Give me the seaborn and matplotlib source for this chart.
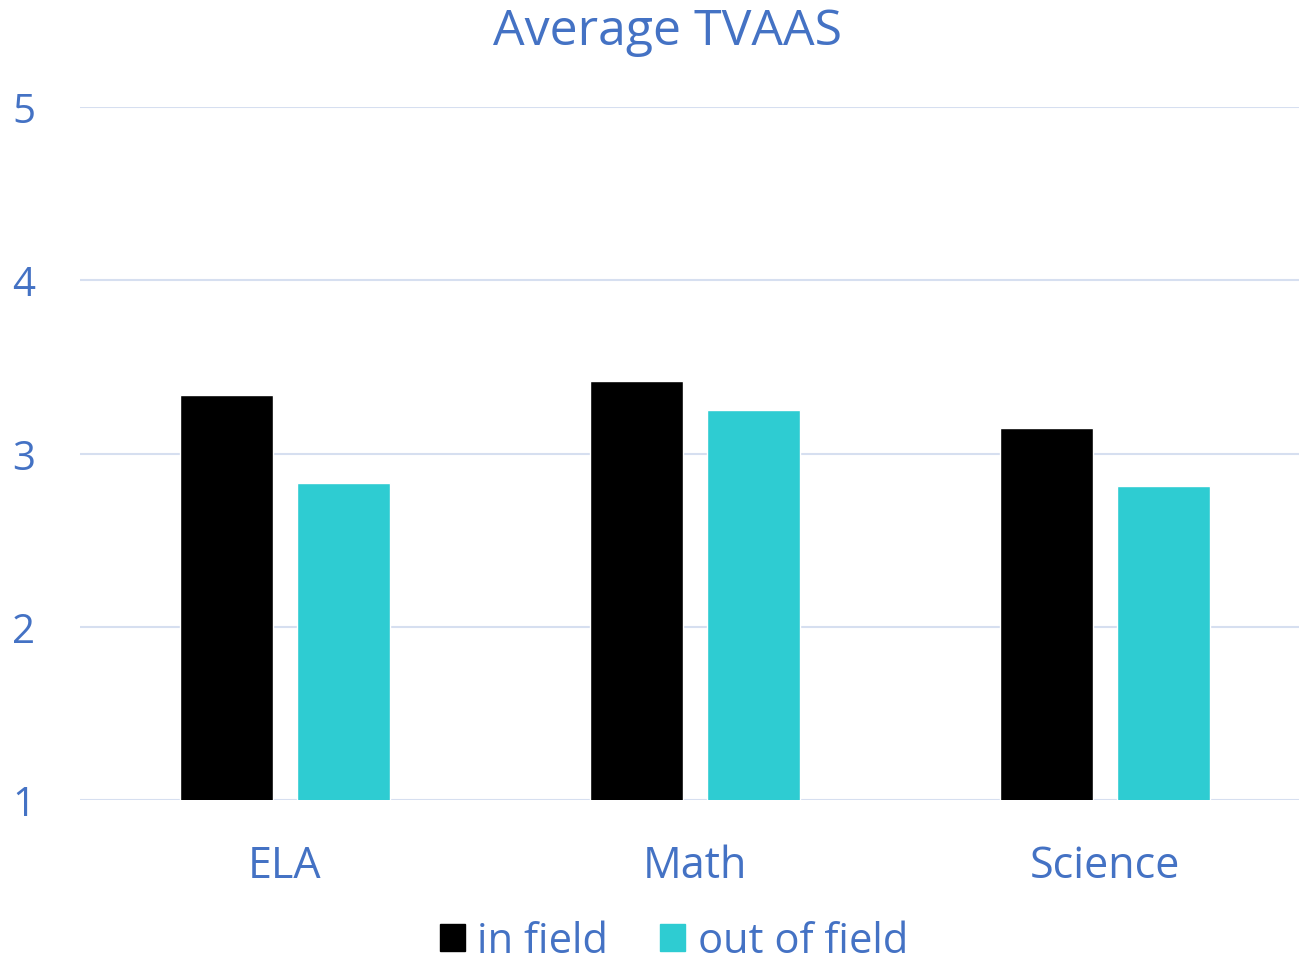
import seaborn as sns
import matplotlib.pyplot as plt
import pandas as pd

subjects = ['ELA', 'Math', 'Science']
in_field = [3.34, 3.42, 3.15]
out_of_field = [2.83, 3.25, 2.81]
series = ['in field', 'out of field']
colors = ['#000000', '#2ECCD2']

df = pd.DataFrame({
    'subject': subjects * 2,
    'group': [series[0]] * 3 + [series[1]] * 3,
    'value': in_field + out_of_field,
})

sns.set_theme(style='white')
plt.rcParams['font.family'] = ['Open Sans', 'DejaVu Sans']
blue = '#4472C4'

fig = plt.figure(figsize=(12.99, 9.62), dpi=100)
ax = fig.add_axes([80 / 1299, 1 - 801 / 962, 1219 / 1299, 693 / 962])

sns.barplot(data=df, x='subject', y='value', hue='group',
            palette=colors, saturation=1, width=0.57, gap=0.21,
            ax=ax, legend=False)

ax.set_ylim(1, 5)
ax.set_xlim(-0.5, 2.473)
ax.set_yticks([1, 2, 3, 4, 5])
ax.yaxis.grid(True, color='#D6DFF0', linewidth=1.5)
ax.set_axisbelow(True)
for s in ax.spines.values():
    s.set_visible(False)
ax.set_xlabel('')
ax.set_ylabel('')
ax.tick_params(axis='y', labelsize=29, colors=blue, pad=32, length=0)
ax.tick_params(axis='x', labelsize=31, colors=blue, pad=31, length=0)

fig.text(667 / 1299, 1 - 32 / 962, 'Average TVAAS', ha='center', va='center',
         fontsize=36, color=blue)

handles = [plt.Rectangle((0, 0), 1, 1, color=c) for c in colors]
leg = fig.legend(handles, series, loc='center', bbox_to_anchor=(674 / 1299, 1 - 942 / 962),
                 ncol=2, frameon=False, fontsize=30, handlelength=0.6, handleheight=0.6,
                 handletextpad=0.3, columnspacing=1.25, borderaxespad=0)
for t in leg.get_texts():
    t.set_color(blue)

fig.savefig('out.png', dpi=100)
